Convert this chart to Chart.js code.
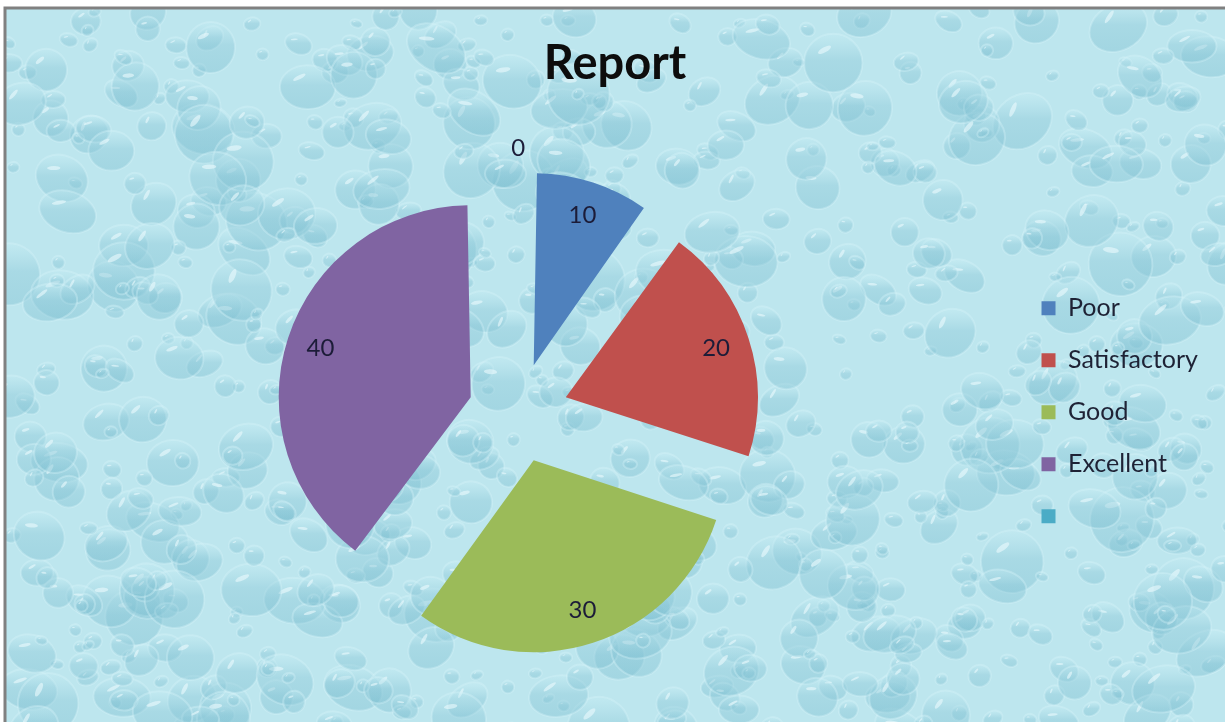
<!DOCTYPE html>
<html>
<head>
<meta charset="utf-8">
<title>Report</title>
<script src="https://cdn.jsdelivr.net/npm/chart.js@4.4.1/dist/chart.umd.min.js"></script>
<style>
    html, body { margin: 0; padding: 0; background: #fff; }
    #contenedor { width: 1225px; height: 722px; }
</style>
</head>
<body>
<div id="contenedor"><canvas id="graficoReporte"></canvas></div>
<script>
// Datos del gráfico
const titulo = 'Report';
const categorias = ['Poor', 'Satisfactory', 'Good', 'Excellent', ''];
const valores = [10, 20, 30, 40, 0];
const colores = ['#4F81BD', '#C0504D', '#9BBB59', '#8064A2', '#4BACC6'];

// Separación de las porciones en píxeles (Chart.js v4 aplica offset / 4)
const separacion = 50;

// Hash determinista para la textura de gotas (solo decoración)
function hash(n) {
    const s = Math.sin(n * 12.9898 + 78.233) * 43758.5453;
    return s - Math.floor(s);
}

// Fondo con textura de gotas de agua y marco gris
const fondoGotas = {
    id: 'fondoGotas',
    beforeDraw(chart) {
        const ctx = chart.ctx;
        const w = chart.width, h = chart.height;
        const x0 = 6, y0 = 9;
        ctx.save();
        ctx.fillStyle = '#fff';
        ctx.fillRect(0, 0, w, h);
        ctx.fillStyle = '#BDE6EE';
        ctx.fillRect(x0, y0, w - x0, h - y0);
        ctx.beginPath();
        ctx.rect(x0, y0, w - x0, h - y0);
        ctx.clip();

        for (let i = 0; i < 900; i++) {
            const x = x0 + hash(i * 3 + 1) * w;
            const y = y0 + hash(i * 3 + 2) * h;
            const r = 6 + Math.pow(hash(i * 3 + 3), 2.0) * 26;
            const ry = r * (0.65 + hash(i * 7 + 5) * 0.4);
            const rot = (hash(i * 11 + 9) - 0.5) * 1.4;

            const g = ctx.createLinearGradient(x, y - ry, x, y + ry);
            g.addColorStop(0, 'rgba(200,238,245,0.35)');
            g.addColorStop(0.45, 'rgba(140,200,216,0.42)');
            g.addColorStop(1, 'rgba(120,188,206,0.38)');
            ctx.beginPath();
            ctx.ellipse(x, y, r, ry, rot, 0, Math.PI * 2);
            ctx.fillStyle = g;
            ctx.fill();
            ctx.lineWidth = 2;
            ctx.strokeStyle = 'rgba(215,244,249,0.35)';
            ctx.stroke();

            // brillo
            ctx.beginPath();
            ctx.ellipse(x - r * 0.3, y - ry * 0.45, r * 0.25, ry * 0.09, rot - 0.5, 0, Math.PI * 2);
            ctx.fillStyle = 'rgba(235,250,253,0.6)';
            ctx.fill();
        }
        ctx.restore();

        ctx.save();
        ctx.strokeStyle = '#808080';
        ctx.lineWidth = 3;
        ctx.beginPath();
        ctx.moveTo(5, h);
        ctx.lineTo(5, 8);
        ctx.lineTo(w, 8);
        ctx.stroke();
        ctx.restore();
    }
};

// Chart.js agranda el radio de las porciones estrechas al separarlas;
// se compensa para que todas tengan el mismo radio
const radioIgual = {
    id: 'radioIgual',
    beforeDatasetsDraw(chart) {
        chart.getDatasetMeta(0).data.forEach(arc => {
            const fix = 1 - Math.sin(Math.min(Math.PI, arc.circumference || 0));
            arc.outerRadius = chart.getDatasetMeta(0).controller.outerRadius - separacion * fix;
        });
    }
};

// Etiquetas de valor en cada porción
const etiquetasValor = {
    id: 'etiquetasValor',
    afterDatasetsDraw(chart) {
        const meta = chart.getDatasetMeta(0);
        const ctx = chart.ctx;
        ctx.save();
        ctx.font = '24px Lato';
        ctx.fillStyle = '#1C1C38';
        ctx.textAlign = 'center';
        ctx.textBaseline = 'middle';
        meta.data.forEach((arc, i) => {
            const p = arc.getProps(['x', 'y', 'startAngle', 'endAngle'], true);
            const medio = (p.startAngle + p.endAngle) / 2;
            // las etiquetas a cero van por fuera del pastel
            const dist = valores[i] === 0 ? separacion + 214 : separacion + 158;
            ctx.fillText(String(valores[i]), p.x + Math.cos(medio) * dist, p.y + Math.sin(medio) * dist);
        });
        ctx.restore();
    }
};

const ctx = document.getElementById('graficoReporte').getContext('2d');
new Chart(ctx, {
    type: 'pie',
    data: {
        labels: categorias,
        datasets: [{
            data: valores,
            backgroundColor: colores,
            borderWidth: 0,
            offset: separacion * 4
        }]
    },
    options: {
        responsive: true,
        maintainAspectRatio: false,
        animation: false,
        events: [],
        radius: 192,
        layout: {
            padding: { left: 22, right: 17, top: 0, bottom: 0 }
        },
        plugins: {
            title: {
                display: true,
                text: titulo,
                color: '#0D0D0D',
                font: { family: 'Lato', size: 47, weight: 'bold' },
                padding: { top: 36, bottom: 11 }
            },
            legend: {
                position: 'right',
                align: 'center',
                title: {
                    display: true,
                    text: '',
                    font: { size: 12 },
                    padding: { top: 88, bottom: 0 }
                },
                labels: {
                    boxWidth: 14,
                    boxHeight: 14,
                    padding: 27,
                    color: '#1E2235',
                    font: { family: 'Lato', size: 25 }
                }
            },
            tooltip: { enabled: false }
        }
    },
    plugins: [fondoGotas, radioIgual, etiquetasValor]
});
</script>
</body>
</html>
